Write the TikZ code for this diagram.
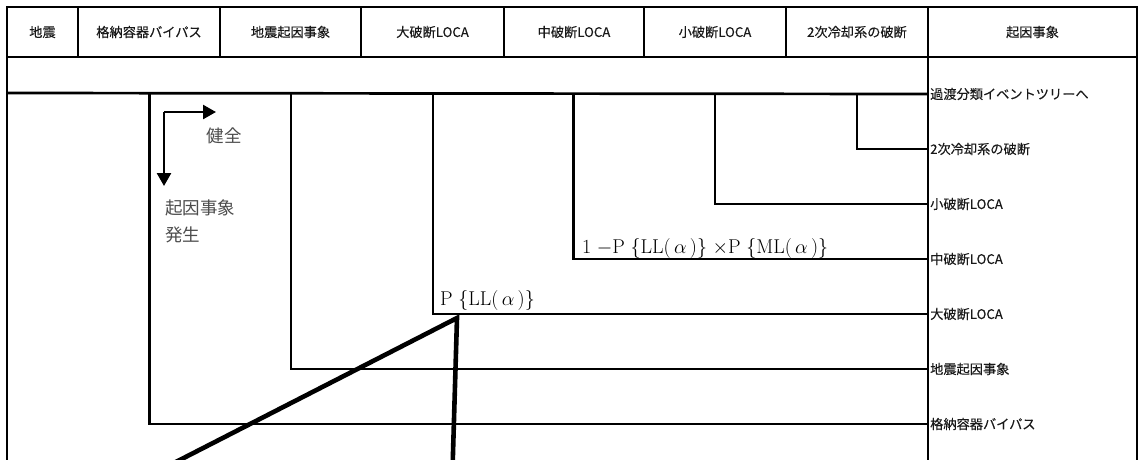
\RequirePackage{fix-cm}
\documentclass[tikz,border=0pt]{standalone}
\usepackage{fontspec}
\newfontfamily\jp[FakeBold=0.25]{Noto Sans CJK JP}
\newfontfamily\jpn{Noto Sans CJK JP}
\usetikzlibrary{arrows.meta}
\begin{document}
\begin{tikzpicture}[x=1pt,y=-1pt,
  frame/.style={line width=1.8pt},
  tree/.style={line width=2.7pt},
  bigline/.style={line width=4.6pt},
  arr/.style={line width=2.5pt,-{Triangle[length=13pt,width=14pt]}},
  hdr/.style={font=\jp\fontsize{13.2}{15}\selectfont, text=black!90, inner sep=0pt},
  lab/.style={hdr, anchor=west, inner sep=2pt},
  note/.style={font=\jpn\fontsize{17.5}{27}\selectfont, text=black!70, inner sep=0pt, align=left},
  mlab/.style={font=\fontsize{20}{22}\selectfont, text=black, inner sep=0pt, anchor=west}
]
\useasboundingbox (0,0) rectangle (1142,459);
\clip (0,0) rectangle (1142,459);
% frame
\draw[frame] (7,470) -- (7,7) -- (1137,7) -- (1137,470);
\draw[frame] (7,57) -- (1137,57);
\foreach \x in {78,220,361,504,644,786} \draw[frame] (\x,7) -- (\x,57);
\draw[frame] (928,7) -- (928,470);
% header texts
\node[hdr] (h1) at (42.5,32) {地震};
\node[hdr] (h2) at (149,32) {格納容器バイパス};
\node[hdr] (h3) at (290.5,32) {地震起因事象};
\node[hdr] (h4) at (432.5,32) {大破断LOCA};
\node[hdr] (h5) at (574,32) {中破断LOCA};
\node[hdr] (h6) at (715,32) {小破断LOCA};
\node[hdr] (h7) at (857,32) {2次冷却系の破断};
\node[hdr] (h8) at (1032.5,32) {起因事象};
% right labels
\node[lab] (r0) at (928,94) {過渡分類イベントツリーへ};
\node[lab] (r1) at (928,149) {2次冷却系の破断};
\node[lab] (r2) at (928,204) {小破断LOCA};
\node[lab] (r3) at (928,259) {中破断LOCA};
\node[lab] (r4) at (928,314) {大破断LOCA};
\node[lab] (r5) at (928,369) {地震起因事象};
\node[lab] (r6) at (928,424) {格納容器バイパス};
% tree
\coordinate (m0) at (7,93);
\coordinate (b6) at (149.5,93);
\coordinate (b5) at (291,93);
\coordinate (b4) at (433,93);
\coordinate (b3) at (573.5,93);
\coordinate (b2) at (715,93);
\coordinate (b1) at (857,93);
\draw[tree] (m0) -- (r0.west);
\draw[tree] (b1) |- (r1.west);
\draw[tree] (b2) |- (r2.west);
\draw[tree] (b3) |- (r3.west);
\draw[tree] (b4) |- (r4.west);
\draw[tree] (b5) |- (r5.west);
\draw[tree] (b6) |- (r6.west);
% legend arrows
\coordinate (c0) at (164,112);
\coordinate (c1) at (216,112);
\coordinate (c2) at (164,186);
\draw[arr] (c0) -- (c1);
\draw[arr] (c0) -- (c2);
\node[note] (ok) at (224,136) {健全};
\node[note, anchor=west] (oc) at (165,221) {起因事象\\発生};
% probability labels
\node[mlab] (pm) at (582,248) {$1\;{-}\mathrm{P}\;\{\mathrm{LL}(\,\alpha\,)\}\;{\times}\mathrm{P}\;\{\mathrm{ML}(\,\alpha\,)\}$};
\node[mlab] (pl) at (440,300) {$\mathrm{P}\;\{\mathrm{LL}(\,\alpha\,)\}$};
% callout lines
\coordinate (ap) at (457,318);
\coordinate (e1) at (170,465);
\coordinate (e2) at (452.5,470);
\draw[bigline,line join=miter] (e1) -- (ap) -- (e2);
\end{tikzpicture}
\end{document}
